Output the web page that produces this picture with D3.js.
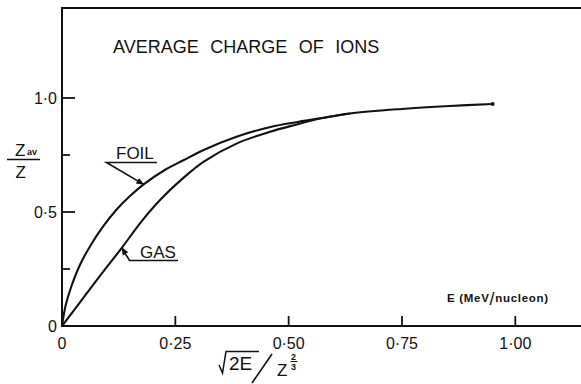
<!DOCTYPE html>
<html>
<head>
<meta charset="utf-8">
<script src="https://cdn.jsdelivr.net/npm/d3@7"></script>
<style>
  html, body { margin: 0; padding: 0; background: #fff; }
  svg { display: block; }
  text { font-family: "Liberation Sans", Arial, sans-serif; fill: #111; }
</style>
</head>
<body>
<svg id="chart" width="581" height="384"></svg>
<script>
// Average charge of ions: Z_av/Z against sqrt(2E)/Z^(2/3)
const foilX = [0, 0.008, 0.02, 0.04, 0.065, 0.09, 0.12, 0.15, 0.18, 0.225, 0.27, 0.31, 0.385, 0.46, 0.52, 0.57, 0.635, 0.75, 0.855, 0.95];
const foilY = [0, 0.09, 0.17, 0.27, 0.36, 0.435, 0.51, 0.57, 0.621, 0.682, 0.729, 0.77, 0.83, 0.873, 0.895, 0.911, 0.932, 0.952, 0.965, 0.974];

const gasX = [0, 0.04, 0.08, 0.132, 0.176, 0.22, 0.271, 0.312, 0.385, 0.459, 0.518, 0.569, 0.635];
const gasY = [0, 0.105, 0.21, 0.343, 0.46, 0.56, 0.655, 0.72, 0.80, 0.852, 0.884, 0.91, 0.932];

const xTicks = [0, 0.25, 0.5, 0.75, 1.0];
const xTickLabels = ["0", "0·25", "0·50", "0·75", "1·00"];
const yTicks = [0, 0.25, 0.5, 0.75, 1.0];
const yTickLabels = ["0", "", "0·5", "", "1·0"];

// Arrow tips of the curve labels, in data units
const foilTip = [0.18, 0.621];
const gasTip = [0.132, 0.343];

const svg = d3.select("#chart");
const W = 581;

const x = d3.scaleLinear().domain([0, 1]).range([62, 515.3]);
const y = d3.scaleLinear().domain([0, 1]).range([326, 98]);
const xMax = x.invert(W);
const yMax = y.invert(8);

// Frame: left axis, bottom axis, top border
const frame = svg.append("g").attr("stroke", "#111").attr("stroke-width", 2).attr("fill", "none");
frame.append("path")
  .attr("d", d3.line()([[x(xMax), y(yMax)], [x(0), y(yMax)], [x(0), y(0)], [x(xMax), y(0)]]));

// Ticks drawn inward
const tickG = svg.append("g").attr("stroke", "#111").attr("stroke-width", 1.8);
xTicks.filter(d => d > 0).forEach(d => {
  tickG.append("line").attr("x1", x(d)).attr("x2", x(d)).attr("y1", y(0)).attr("y2", y(0) - 10);
});
yTicks.filter(d => d > 0).forEach(d => {
  const major = yTickLabels[yTicks.indexOf(d)] !== "";
  tickG.append("line").attr("x1", x(0)).attr("x2", x(0) + (major ? 13 : 8)).attr("y1", y(d)).attr("y2", y(d));
});

// Tick labels
svg.append("g").selectAll("text").data(xTicks).join("text")
  .attr("x", d => x(d)).attr("y", 348.5)
  .attr("text-anchor", "middle").attr("font-size", 16)
  .text((d, i) => xTickLabels[i]);

svg.append("g").selectAll("text").data(yTicks).join("text")
  .attr("x", 57).attr("y", d => y(d) + 6)
  .attr("text-anchor", "end").attr("font-size", 16)
  .text((d, i) => yTickLabels[i]);

// Curves
const line = d3.line().x(d => x(d[0])).y(d => y(d[1])).curve(d3.curveCatmullRom.alpha(0.5));
const foil = foilX.map((v, i) => [v, foilY[i]]);
const gas = gasX.map((v, i) => [v, gasY[i]]);
svg.append("path").attr("d", line(foil)).attr("fill", "none").attr("stroke", "#111").attr("stroke-width", 2.1);
svg.append("path").attr("d", line(gas)).attr("fill", "none").attr("stroke", "#111").attr("stroke-width", 2.1);
svg.append("circle")
  .attr("cx", x(foilX[foilX.length - 1])).attr("cy", y(foilY[foilY.length - 1]))
  .attr("r", 2).attr("fill", "#111");

// Title
svg.append("text").attr("x", 113).attr("y", 53).attr("font-size", 18)
  .attr("word-spacing", 6.5).text("AVERAGE CHARGE OF IONS");

// Arrow marker
svg.append("defs").append("marker")
  .attr("id", "arr").attr("viewBox", "0 0 10 10").attr("refX", 9).attr("refY", 5)
  .attr("markerWidth", 5).attr("markerHeight", 5).attr("orient", "auto")
  .append("path").attr("d", "M0,1 L10,5 L0,9 Z").attr("fill", "#111");

// FOIL label with leader
svg.append("text").attr("x", 116).attr("y", 159).attr("font-size", 17).text("FOIL");
svg.append("path")
  .attr("d", d3.line()([[157, 162.5], [106.5, 162.5], [x(foilTip[0]), y(foilTip[1])]]))
  .attr("fill", "none").attr("stroke", "#111").attr("stroke-width", 1.6)
  .attr("marker-end", "url(#arr)");

// GAS label with leader
svg.append("text").attr("x", 140).attr("y", 258).attr("font-size", 17).text("GAS");
svg.append("path")
  .attr("d", d3.line()([[178, 260.5], [129.5, 260.5], [x(gasTip[0]), y(gasTip[1])]]))
  .attr("fill", "none").attr("stroke", "#111").attr("stroke-width", 1.6)
  .attr("marker-end", "url(#arr)");

// Y-axis label: Z_av / Z
const yl = svg.append("g");
yl.append("text").attr("x", 15).attr("y", 156).attr("font-size", 17).text("Z");
yl.append("text").attr("x", 27).attr("y", 155).attr("font-size", 9).attr("font-weight", "bold").text("av");
yl.append("line").attr("x1", 7).attr("x2", 40).attr("y1", 159.5).attr("y2", 159.5)
  .attr("stroke", "#111").attr("stroke-width", 1.4);
yl.append("text").attr("x", 15.5).attr("y", 177.5).attr("font-size", 17).text("Z");

// X-axis label: sqrt(2E) / Z^(2/3)
const xl = svg.append("g");
xl.append("path").attr("d", "M219,365 L222.5,373 L226,351.5 L259,351.5")
  .attr("fill", "none").attr("stroke", "#111").attr("stroke-width", 1.5);
xl.append("text").attr("x", 229).attr("y", 369.5).attr("font-size", 19).text("2E");
xl.append("line").attr("x1", 252).attr("y1", 383).attr("x2", 272).attr("y2", 354)
  .attr("stroke", "#111").attr("stroke-width", 1.6);
xl.append("text").attr("x", 277).attr("y", 376).attr("font-size", 17).text("Z");
xl.append("text").attr("x", 291).attr("y", 359.5).attr("font-size", 9).attr("font-weight", "bold").text("2");
xl.append("line").attr("x1", 290.5).attr("x2", 297.5).attr("y1", 361.5).attr("y2", 361.5)
  .attr("stroke", "#111").attr("stroke-width", 1);
xl.append("text").attr("x", 291).attr("y", 369.5).attr("font-size", 9).attr("font-weight", "bold").text("3");

// Energy scale note
const el = svg.append("text").attr("x", 447).attr("y", 302).attr("font-size", 11.5)
  .attr("font-weight", "bold").attr("letter-spacing", 0.7);
el.append("tspan").text("E (MeV");
el.append("tspan").attr("font-size", 18).attr("font-weight", "normal").attr("dy", 2.5).text("/");
el.append("tspan").attr("dy", -2.5).text("nucleon)");
</script>
</body>
</html>
